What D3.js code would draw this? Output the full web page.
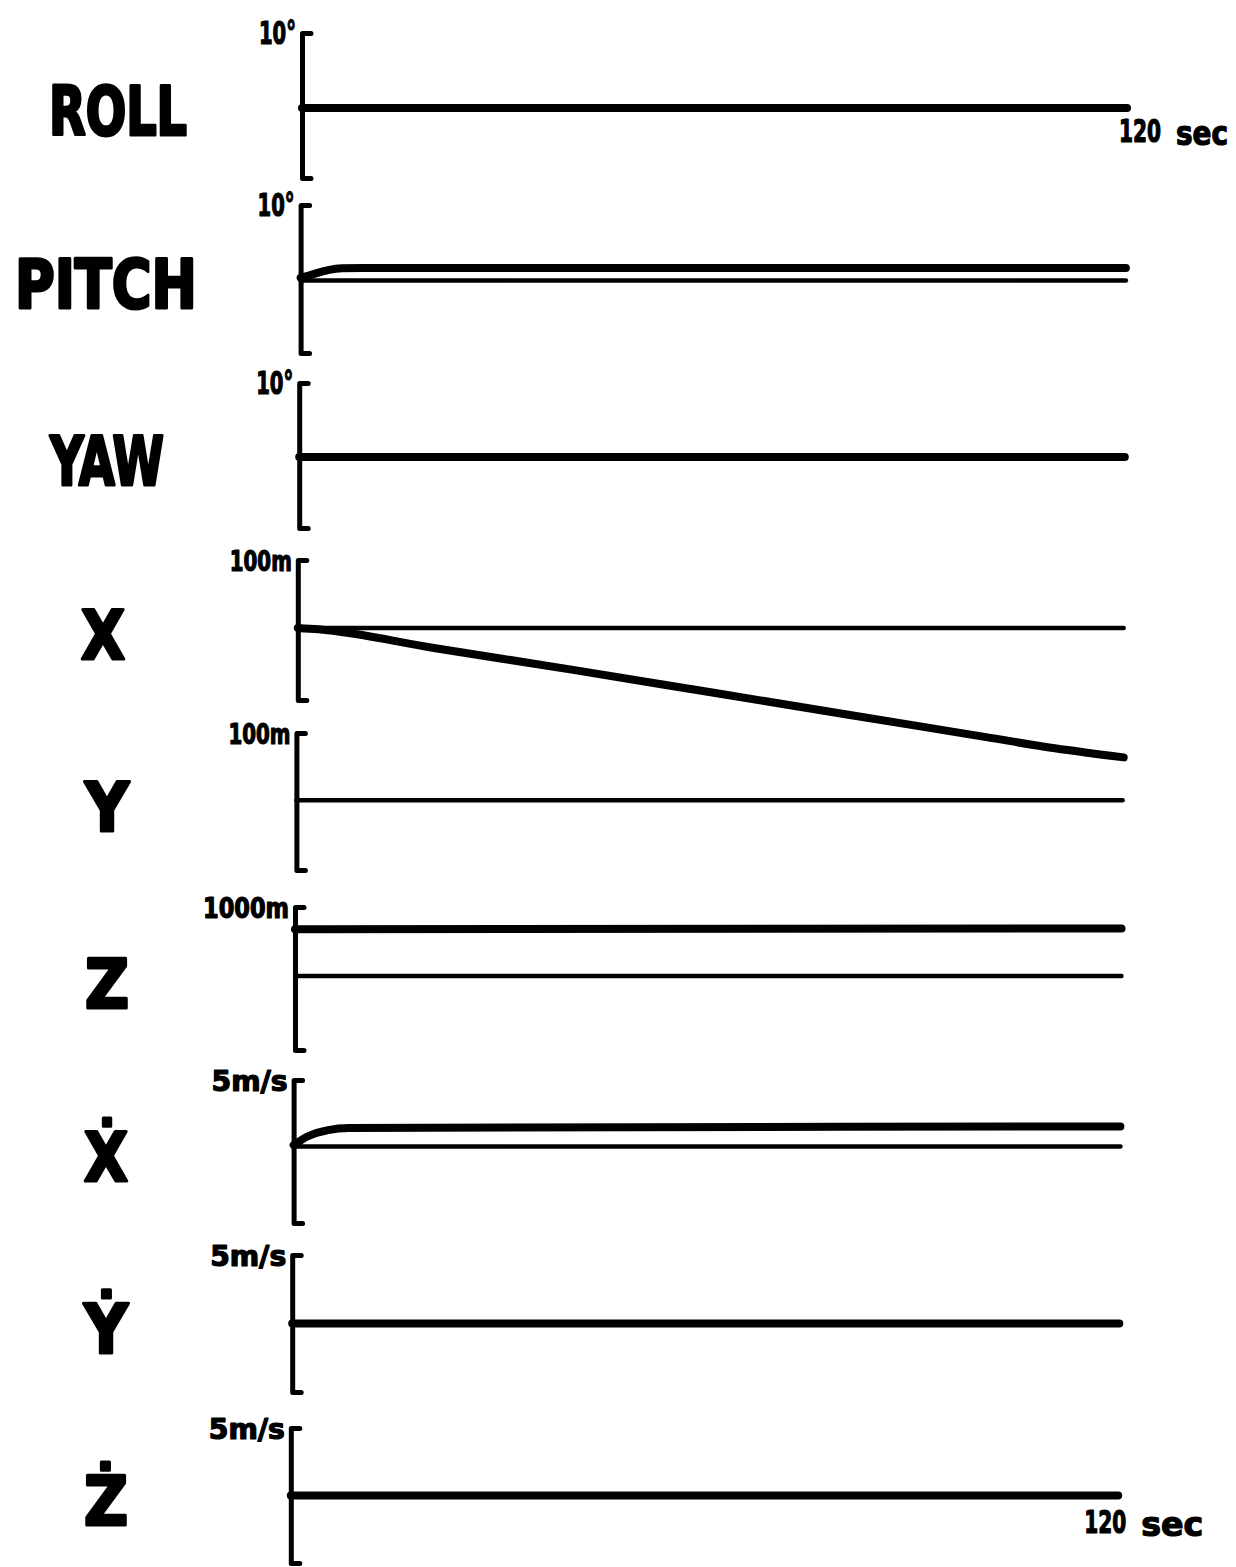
<!DOCTYPE html>
<html>
<head>
<meta charset="utf-8">
<script src="https://cdn.jsdelivr.net/npm/d3@7"></script>
<style>
  body { margin: 0; background: #fff; }
  text { font-family: 'DejaVu Sans Condensed', 'DejaVu Sans', sans-serif; font-weight: bold; }
</style>
</head>
<body>
<div id="chart"></div>
<script>
// panel names and full-scale labels
const names = ['ROLL', 'PITCH', 'YAW', 'X', 'Y', 'Z', 'Ẋ', 'Ẏ', 'Ż']
const scaleLabels = ['10°', '10°', '10°', '100m', '100m', '1000m', '5m/s', '5m/s', '5m/s']
const fullScale = [10, 10, 10, 100, 100, 1000, 5, 5, 5]
const endTime = 120

// thick = response, thin = reference
const flatTime = [0, 120]
const rollResp = [-0.35, -0.35]

const pitchRespTime = [0, 2, 4, 6, 9, 120]
const pitchResp = [0.15, 0.7, 1.2, 1.45, 1.5, 1.5]
const pitchRef = [-0.2, -0.2]

const yawResp = [-0.2, -0.2]

const xRespTime = [0, 3, 20, 40, 60, 80, 100, 110, 120]
const xResp = [3, 1, -26, -57, -89, -121, -153, -169, -182]
const xRef = [3, 3]

const yRef = [2, 2]

const zResp = [690, 700]
const zRef = [35, 35]

const xdotRespTime = [0, 2, 5, 8, 120]
const xdotResp = [0.45, 1.05, 1.5, 1.65, 1.75]
const xdotRef = [0.35, 0.35]

const ydotResp = [0, 0]
const zdotResp = [0, 0]

function pts(t, v) {
  return t.map((d, i) => ({ t: d, v: v[i] }))
}

const panels = [
  [{ data: pts(flatTime, rollResp), thick: true }],
  [{ data: pts(flatTime, pitchRef), thick: false }, { data: pts(pitchRespTime, pitchResp), thick: true }],
  [{ data: pts(flatTime, yawResp), thick: true }],
  [{ data: pts(flatTime, xRef), thick: false }, { data: pts(xRespTime, xResp), thick: true }],
  [{ data: pts(flatTime, yRef), thick: false }],
  [{ data: pts(flatTime, zRef), thick: false }, { data: pts(flatTime, zResp), thick: true }],
  [{ data: pts(flatTime, xdotRef), thick: false }, { data: pts(xdotRespTime, xdotResp), thick: true }],
  [{ data: pts(flatTime, ydotResp), thick: true }],
  [{ data: pts(flatTime, zdotResp), thick: true }]
]

// layout of the hand-drawn panels (pixels)
const panelTops = [33, 205, 383, 560, 733, 907, 1080, 1255, 1428]
const panelBottoms = [178, 353, 528, 700, 870, 1050, 1223, 1392, 1563]
const nameCenters = [118, 106, 107, 103, 107, 107, 106, 106, 106]

const width = 1236
const height = 1567

const svg = d3
  .select('#chart')
  .append('svg')
  .attr('width', width)
  .attr('height', height)

panels.forEach(function(lines, i) {
  const top = panelTops[i]
  const bottom = panelBottoms[i]
  const mid = (top + bottom) / 2
  // the panels drift slightly left going down
  const x0 = 302 - i * 1.4
  const x1 = 1127 - i * 1.1

  const xPositionScale = d3.scaleLinear().domain([0, endTime]).range([x0, x1])
  const yPositionScale = d3
    .scaleLinear()
    .domain([-fullScale[i], fullScale[i]])
    .range([bottom, top])

  const g = svg.append('g')

  // bracket axis
  const axis = g
    .append('g')
    .attr('transform', 'translate(' + x0 + ',0)')
    .call(
      d3
        .axisRight(yPositionScale)
        .tickValues([])
        .tickSizeOuter(9)
    )
  axis
    .select('.domain')
    .attr('stroke', '#000')
    .attr('stroke-width', 5)
    .attr('stroke-linecap', 'round')
    .attr('stroke-linejoin', 'round')
    .attr('fill', 'none')

  const line = d3
    .line()
    .x(d => xPositionScale(d.t))
    .y(d => yPositionScale(d.v))
    .curve(d3.curveMonotoneX)

  g.selectAll('.trace')
    .data(lines)
    .enter()
    .append('path')
    .attr('class', 'trace')
    .attr('d', d => line(d.data))
    .attr('fill', 'none')
    .attr('stroke', '#000')
    .attr('stroke-width', d => (d.thick ? 8 : 4.5))
    .attr('stroke-linecap', 'round')
    .attr('stroke-linejoin', 'round')

  // full scale label
  const lbl = scaleLabels[i]
  const lblWidth = { '10°': 37, '100m': 62, '1000m': 86, '5m/s': 76 }[lbl]
  g.append('text')
    .attr('x', x0 - 6)
    .attr('y', top + 11)
    .attr('text-anchor', 'end')
    .attr('font-size', lbl === '10°' ? 32 : 28)
    .attr('textLength', lblWidth)
    .attr('lengthAdjust', 'spacingAndGlyphs')
    .attr('stroke', '#000')
    .attr('stroke-width', 1.2)
    .attr('stroke-linejoin', 'round')
    .text(lbl)

  // panel name
  const nameWidth = { ROLL: 138, PITCH: 182, YAW: 114 }[names[i]] || 44
  g.append('text')
    .attr('x', nameCenters[i])
    .attr('y', mid + 29)
    .attr('text-anchor', 'middle')
    .attr('font-size', 68)
    .attr('textLength', nameWidth)
    .attr('lengthAdjust', 'spacingAndGlyphs')
    .attr('stroke', '#000')
    .attr('stroke-width', 3)
    .attr('stroke-linejoin', 'round')
    .text(names[i])

  // time label on first and last panel
  if (i === 0 || i === panels.length - 1) {
    const first = i === 0
    const tx = first ? x1 - 8 : x1 - 34
    const ty = first ? mid + 36 : mid + 37
    g.append('text')
      .attr('x', tx)
      .attr('y', ty)
      .attr('font-size', 32)
      .attr('textLength', 42)
      .attr('lengthAdjust', 'spacingAndGlyphs')
      .attr('stroke', '#000')
      .attr('stroke-width', 1.2)
      .attr('stroke-linejoin', 'round')
      .text('120')
    g.append('text')
      .attr('x', first ? tx + 57 : tx + 57)
      .attr('y', ty + 3)
      .attr('font-size', 34)
      .attr('textLength', first ? 52 : 62)
      .attr('lengthAdjust', 'spacingAndGlyphs')
      .attr('stroke', '#000')
      .attr('stroke-width', 1.2)
      .attr('stroke-linejoin', 'round')
      .text('sec')
  }
})
</script>
</body>
</html>
